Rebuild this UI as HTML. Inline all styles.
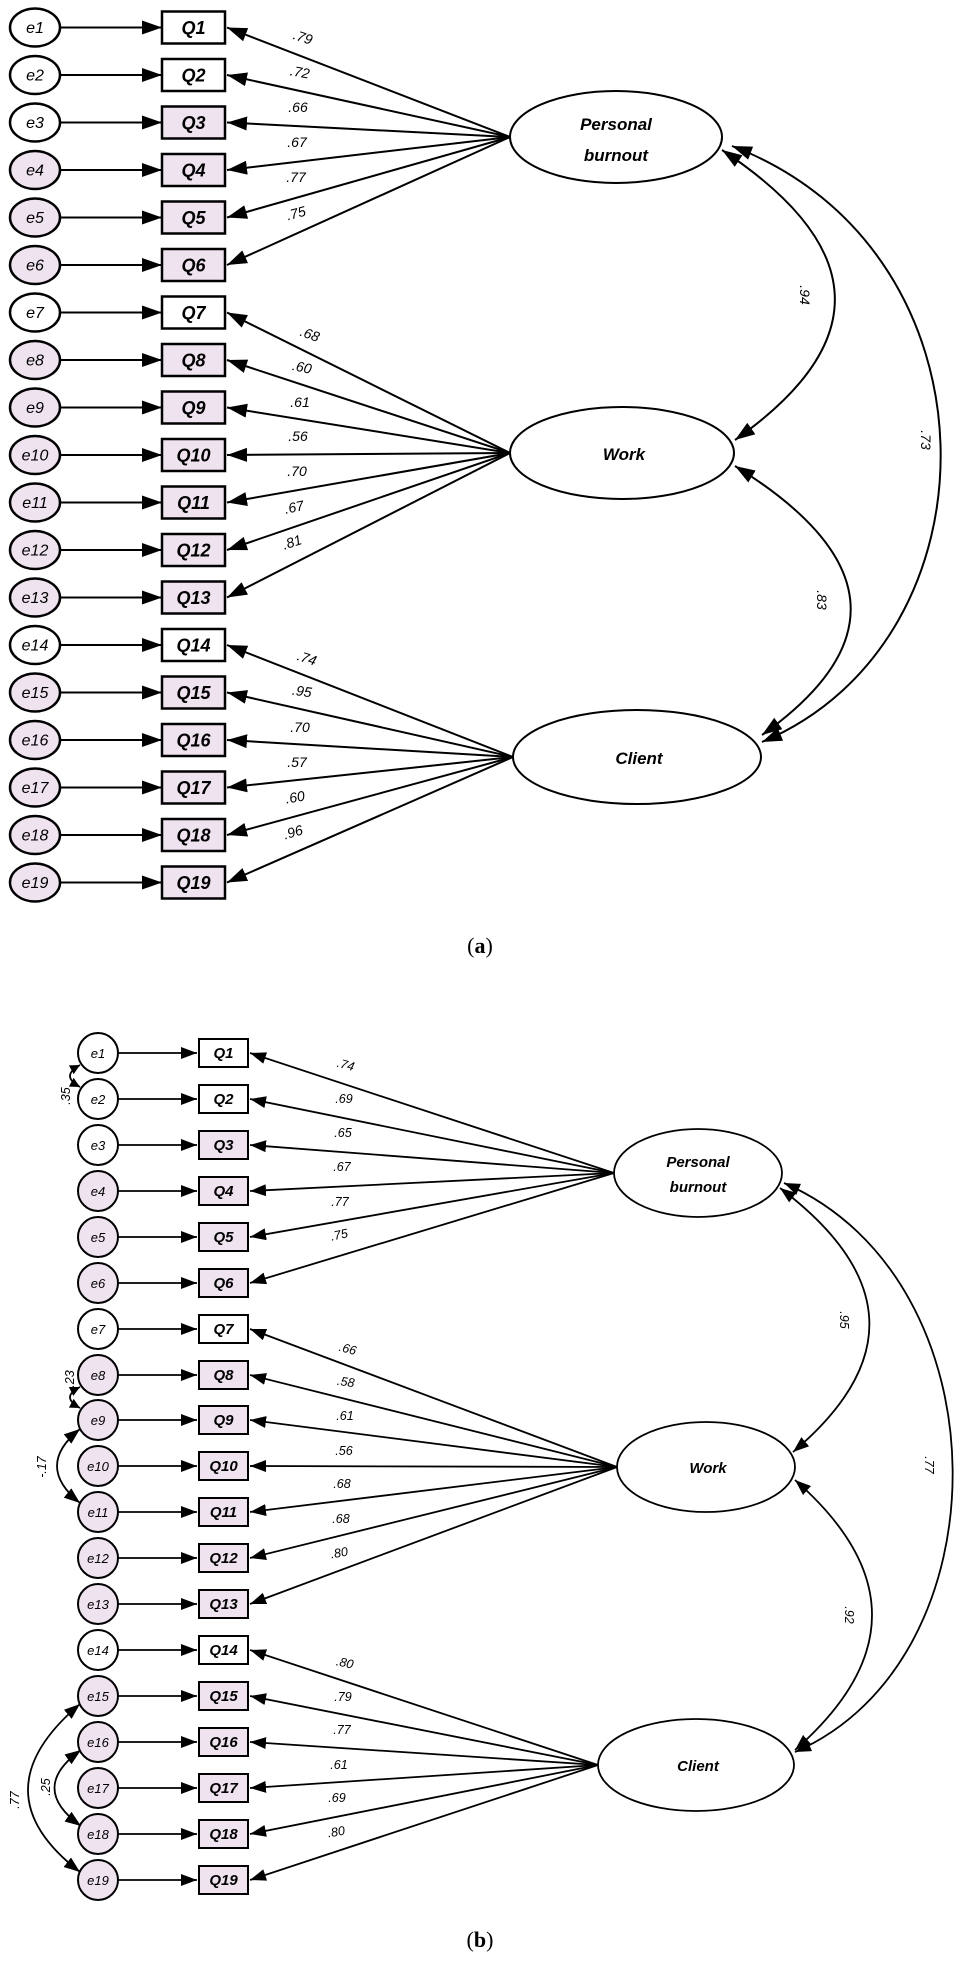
<!DOCTYPE html>
<html><head><meta charset="utf-8"><style>
html,body{margin:0;padding:0;background:#fff}
svg{display:block}
text{font-family:"Liberation Sans",sans-serif;font-style:italic}
.e{font-size:16px;text-anchor:middle}
.q{font-size:18px;font-weight:bold;text-anchor:middle}
.e2{font-size:13px;text-anchor:middle}
.q2{font-size:15px;font-weight:bold;text-anchor:middle}
.l{font-size:14px;text-anchor:middle}
.l2{font-size:12.5px;text-anchor:middle}
.f{font-size:17px;font-weight:bold;text-anchor:middle}
.f2{font-size:15px;font-weight:bold;text-anchor:middle}
.cap{font-family:"Liberation Serif",serif;font-style:normal;font-size:22px;text-anchor:middle}
</style></head><body>
<svg width="955" height="1963" viewBox="0 0 955 1963" xmlns="http://www.w3.org/2000/svg">
<defs>
<marker id="a" markerUnits="userSpaceOnUse" markerWidth="22" markerHeight="14" refX="20" refY="7" orient="auto-start-reverse"><path d="M0,0 L20,7 L0,14 Z" fill="#000"/></marker>
<marker id="b" markerUnits="userSpaceOnUse" markerWidth="18" markerHeight="12" refX="16" refY="6" orient="auto-start-reverse"><path d="M0,0 L16,6 L0,12 Z" fill="#000"/></marker>
<marker id="s" markerUnits="userSpaceOnUse" markerWidth="12" markerHeight="10" refX="10" refY="5" orient="auto-start-reverse"><path d="M0,0 L10,5 L0,10 Z" fill="#000"/></marker>
</defs>

<!-- PANEL A -->
<g stroke="#000" stroke-width="2" fill="none" marker-end="url(#a)">
<line x1="60" y1="27.5" x2="162" y2="27.5"/><line x1="60" y1="75" x2="162" y2="75"/><line x1="60" y1="122.5" x2="162" y2="122.5"/><line x1="60" y1="170" x2="162" y2="170"/><line x1="60" y1="217.5" x2="162" y2="217.5"/><line x1="60" y1="265" x2="162" y2="265"/><line x1="60" y1="312.5" x2="162" y2="312.5"/><line x1="60" y1="360" x2="162" y2="360"/><line x1="60" y1="407.5" x2="162" y2="407.5"/><line x1="60" y1="455" x2="162" y2="455"/><line x1="60" y1="502.5" x2="162" y2="502.5"/><line x1="60" y1="550" x2="162" y2="550"/><line x1="60" y1="597.5" x2="162" y2="597.5"/><line x1="60" y1="645" x2="162" y2="645"/><line x1="60" y1="692.5" x2="162" y2="692.5"/><line x1="60" y1="740" x2="162" y2="740"/><line x1="60" y1="787.5" x2="162" y2="787.5"/><line x1="60" y1="835" x2="162" y2="835"/><line x1="60" y1="882.5" x2="162" y2="882.5"/>
<line x1="510" y1="137" x2="227" y2="27.5"/><line x1="510" y1="137" x2="227" y2="75"/><line x1="510" y1="137" x2="227" y2="122.5"/><line x1="510" y1="137" x2="227" y2="170"/><line x1="510" y1="137" x2="227" y2="217.5"/><line x1="510" y1="137" x2="227" y2="265"/>
<line x1="510" y1="453" x2="227" y2="312.5"/><line x1="510" y1="453" x2="227" y2="360"/><line x1="510" y1="453" x2="227" y2="407.5"/><line x1="510" y1="453" x2="227" y2="455"/><line x1="510" y1="453" x2="227" y2="502.5"/><line x1="510" y1="453" x2="227" y2="550"/><line x1="510" y1="453" x2="227" y2="597.5"/>
<line x1="513" y1="757" x2="227" y2="645"/><line x1="513" y1="757" x2="227" y2="692.5"/><line x1="513" y1="757" x2="227" y2="740"/><line x1="513" y1="757" x2="227" y2="787.5"/><line x1="513" y1="757" x2="227" y2="835"/><line x1="513" y1="757" x2="227" y2="882.5"/>
<path d="M722,150 Q941,295 735,440" marker-start="url(#a)"/>
<path d="M732,146 C1005,250 1005,640 762,742" marker-start="url(#a)"/>
<path d="M735,466 Q952,600 762,735" marker-start="url(#a)"/>
</g>
<g stroke="#000" stroke-width="2.5">
<ellipse cx="35" cy="27.5" rx="25" ry="19" fill="#fff"/><ellipse cx="35" cy="75" rx="25" ry="19" fill="#fff"/><ellipse cx="35" cy="122.5" rx="25" ry="19" fill="#fff"/><ellipse cx="35" cy="170" rx="25" ry="19" fill="#efe3ef"/><ellipse cx="35" cy="217.5" rx="25" ry="19" fill="#efe3ef"/><ellipse cx="35" cy="265" rx="25" ry="19" fill="#efe3ef"/><ellipse cx="35" cy="312.5" rx="25" ry="19" fill="#fff"/><ellipse cx="35" cy="360" rx="25" ry="19" fill="#efe3ef"/><ellipse cx="35" cy="407.5" rx="25" ry="19" fill="#efe3ef"/><ellipse cx="35" cy="455" rx="25" ry="19" fill="#efe3ef"/><ellipse cx="35" cy="502.5" rx="25" ry="19" fill="#efe3ef"/><ellipse cx="35" cy="550" rx="25" ry="19" fill="#efe3ef"/><ellipse cx="35" cy="597.5" rx="25" ry="19" fill="#efe3ef"/><ellipse cx="35" cy="645" rx="25" ry="19" fill="#fff"/><ellipse cx="35" cy="692.5" rx="25" ry="19" fill="#efe3ef"/><ellipse cx="35" cy="740" rx="25" ry="19" fill="#efe3ef"/><ellipse cx="35" cy="787.5" rx="25" ry="19" fill="#efe3ef"/><ellipse cx="35" cy="835" rx="25" ry="19" fill="#efe3ef"/><ellipse cx="35" cy="882.5" rx="25" ry="19" fill="#efe3ef"/>
<rect x="162" y="11.5" width="63" height="32" fill="#fff"/><rect x="162" y="59" width="63" height="32" fill="#fff"/><rect x="162" y="106.5" width="63" height="32" fill="#efe3ef"/><rect x="162" y="154" width="63" height="32" fill="#efe3ef"/><rect x="162" y="201.5" width="63" height="32" fill="#efe3ef"/><rect x="162" y="249" width="63" height="32" fill="#efe3ef"/><rect x="162" y="296.5" width="63" height="32" fill="#fff"/><rect x="162" y="344" width="63" height="32" fill="#efe3ef"/><rect x="162" y="391.5" width="63" height="32" fill="#efe3ef"/><rect x="162" y="439" width="63" height="32" fill="#efe3ef"/><rect x="162" y="486.5" width="63" height="32" fill="#efe3ef"/><rect x="162" y="534" width="63" height="32" fill="#efe3ef"/><rect x="162" y="581.5" width="63" height="32" fill="#efe3ef"/><rect x="162" y="629" width="63" height="32" fill="#fff"/><rect x="162" y="676.5" width="63" height="32" fill="#efe3ef"/><rect x="162" y="724" width="63" height="32" fill="#efe3ef"/><rect x="162" y="771.5" width="63" height="32" fill="#efe3ef"/><rect x="162" y="819" width="63" height="32" fill="#efe3ef"/><rect x="162" y="866.5" width="63" height="32" fill="#efe3ef"/>
</g>
<g stroke="#000" stroke-width="2" fill="#fff">
<ellipse cx="616" cy="137" rx="106" ry="46"/><ellipse cx="622" cy="453" rx="112" ry="46"/><ellipse cx="637" cy="757" rx="124" ry="47"/>
</g>
<text class="e" x="35" y="33">e1</text><text class="e" x="35" y="80.5">e2</text><text class="e" x="35" y="128">e3</text><text class="e" x="35" y="175.5">e4</text><text class="e" x="35" y="223">e5</text><text class="e" x="35" y="270.5">e6</text><text class="e" x="35" y="318">e7</text><text class="e" x="35" y="365.5">e8</text><text class="e" x="35" y="413">e9</text><text class="e" x="35" y="460.5">e10</text><text class="e" x="35" y="508">e11</text><text class="e" x="35" y="555.5">e12</text><text class="e" x="35" y="603">e13</text><text class="e" x="35" y="650.5">e14</text><text class="e" x="35" y="698">e15</text><text class="e" x="35" y="745.5">e16</text><text class="e" x="35" y="793">e17</text><text class="e" x="35" y="840.5">e18</text><text class="e" x="35" y="888">e19</text>
<text class="q" x="193.5" y="34">Q1</text><text class="q" x="193.5" y="81.5">Q2</text><text class="q" x="193.5" y="129">Q3</text><text class="q" x="193.5" y="176.5">Q4</text><text class="q" x="193.5" y="224">Q5</text><text class="q" x="193.5" y="271.5">Q6</text><text class="q" x="193.5" y="319">Q7</text><text class="q" x="193.5" y="366.5">Q8</text><text class="q" x="193.5" y="414">Q9</text><text class="q" x="193.5" y="461.5">Q10</text><text class="q" x="193.5" y="509">Q11</text><text class="q" x="193.5" y="556.5">Q12</text><text class="q" x="193.5" y="604">Q13</text><text class="q" x="193.5" y="651.5">Q14</text><text class="q" x="193.5" y="699">Q15</text><text class="q" x="193.5" y="746.5">Q16</text><text class="q" x="193.5" y="794">Q17</text><text class="q" x="193.5" y="841.5">Q18</text><text class="q" x="193.5" y="889">Q19</text>
<text class="l" x="303" y="42" transform="rotate(18 303 37)">.79</text><text class="l" x="300" y="77" transform="rotate(10 300 72)">.72</text><text class="l" x="298" y="112">.66</text><text class="l" x="297" y="147">.67</text><text class="l" x="296" y="182">.77</text><text class="l" x="296" y="218" transform="rotate(-15 296 213)">.75</text>
<text class="l" x="310" y="339" transform="rotate(20 310 334)">.68</text><text class="l" x="302" y="372" transform="rotate(12 302 367)">.60</text><text class="l" x="300" y="407">.61</text><text class="l" x="298" y="441">.56</text><text class="l" x="297" y="476">.70</text><text class="l" x="294" y="512" transform="rotate(-12 294 507)">.67</text><text class="l" x="292" y="547" transform="rotate(-18 292 542)">.81</text>
<text class="l" x="307" y="663" transform="rotate(18 307 658)">.74</text><text class="l" x="302" y="696" transform="rotate(8 302 691)">.95</text><text class="l" x="300" y="732">.70</text><text class="l" x="297" y="767">.57</text><text class="l" x="295" y="802" transform="rotate(-10 295 797)">.60</text><text class="l" x="293" y="837" transform="rotate(-16 293 832)">.96</text>
<text class="f" x="616" y="130">Personal</text><text class="f" x="616" y="161">burnout</text>
<text class="f" x="624" y="460">Work</text>
<text class="f" x="639" y="764">Client</text>
<text class="l" x="805" y="300" transform="rotate(90 805 295)">.94</text>
<text class="l" x="926" y="445" transform="rotate(90 926 440)">.73</text>
<text class="l" x="822" y="605" transform="rotate(90 822 600)">.83</text>
<text class="cap" x="480" y="953">(<tspan font-weight="bold">a</tspan>)</text>

<!-- PANEL B -->
<g stroke="#000" stroke-width="1.8" fill="none" marker-end="url(#b)">
<line x1="118" y1="1053" x2="197" y2="1053"/><line x1="118" y1="1099" x2="197" y2="1099"/><line x1="118" y1="1145" x2="197" y2="1145"/><line x1="118" y1="1191" x2="197" y2="1191"/><line x1="118" y1="1237" x2="197" y2="1237"/><line x1="118" y1="1283" x2="197" y2="1283"/><line x1="118" y1="1329" x2="197" y2="1329"/><line x1="118" y1="1375" x2="197" y2="1375"/><line x1="118" y1="1420" x2="197" y2="1420"/><line x1="118" y1="1466" x2="197" y2="1466"/><line x1="118" y1="1512" x2="197" y2="1512"/><line x1="118" y1="1558" x2="197" y2="1558"/><line x1="118" y1="1604" x2="197" y2="1604"/><line x1="118" y1="1650" x2="197" y2="1650"/><line x1="118" y1="1696" x2="197" y2="1696"/><line x1="118" y1="1742" x2="197" y2="1742"/><line x1="118" y1="1788" x2="197" y2="1788"/><line x1="118" y1="1834" x2="197" y2="1834"/><line x1="118" y1="1880" x2="197" y2="1880"/>
<line x1="614" y1="1173" x2="250" y2="1053"/><line x1="614" y1="1173" x2="250" y2="1099"/><line x1="614" y1="1173" x2="250" y2="1145"/><line x1="614" y1="1173" x2="250" y2="1191"/><line x1="614" y1="1173" x2="250" y2="1237"/><line x1="614" y1="1173" x2="250" y2="1283"/>
<line x1="617" y1="1467" x2="250" y2="1329"/><line x1="617" y1="1467" x2="250" y2="1375"/><line x1="617" y1="1467" x2="250" y2="1420"/><line x1="617" y1="1467" x2="250" y2="1466"/><line x1="617" y1="1467" x2="250" y2="1512"/><line x1="617" y1="1467" x2="250" y2="1558"/><line x1="617" y1="1467" x2="250" y2="1604"/>
<line x1="598" y1="1765" x2="250" y2="1650"/><line x1="598" y1="1765" x2="250" y2="1696"/><line x1="598" y1="1765" x2="250" y2="1742"/><line x1="598" y1="1765" x2="250" y2="1788"/><line x1="598" y1="1765" x2="250" y2="1834"/><line x1="598" y1="1765" x2="250" y2="1880"/>
<path d="M780,1188 Q952,1318 793,1452" marker-start="url(#b)"/>
<path d="M784,1183 C1007,1280 1007,1660 795,1752" marker-start="url(#b)"/>
<path d="M795,1480 Q949,1615 795,1750" marker-start="url(#b)"/>
<path d="M80,1429 Q34,1466 80,1503" marker-start="url(#b)"/>
<path d="M80,1704 Q-24,1792 80,1872" marker-start="url(#b)"/>
<path d="M81,1750 Q28,1788 81,1826" marker-start="url(#b)"/>
<path d="M80,1065 Q60,1076 80,1087" marker-start="url(#s)" marker-end="url(#s)"/>
<path d="M80,1387 Q60,1397 80,1408" marker-start="url(#s)" marker-end="url(#s)"/>
</g>
<g stroke="#000" stroke-width="2">
<circle cx="98" cy="1053" r="20" fill="#fff"/><circle cx="98" cy="1099" r="20" fill="#fff"/><circle cx="98" cy="1145" r="20" fill="#fff"/><circle cx="98" cy="1191" r="20" fill="#efe3ef"/><circle cx="98" cy="1237" r="20" fill="#efe3ef"/><circle cx="98" cy="1283" r="20" fill="#efe3ef"/><circle cx="98" cy="1329" r="20" fill="#fff"/><circle cx="98" cy="1375" r="20" fill="#efe3ef"/><circle cx="98" cy="1420" r="20" fill="#efe3ef"/><circle cx="98" cy="1466" r="20" fill="#efe3ef"/><circle cx="98" cy="1512" r="20" fill="#efe3ef"/><circle cx="98" cy="1558" r="20" fill="#efe3ef"/><circle cx="98" cy="1604" r="20" fill="#efe3ef"/><circle cx="98" cy="1650" r="20" fill="#fff"/><circle cx="98" cy="1696" r="20" fill="#efe3ef"/><circle cx="98" cy="1742" r="20" fill="#efe3ef"/><circle cx="98" cy="1788" r="20" fill="#efe3ef"/><circle cx="98" cy="1834" r="20" fill="#efe3ef"/><circle cx="98" cy="1880" r="20" fill="#efe3ef"/>
<rect x="199" y="1039" width="49" height="28" fill="#fff"/><rect x="199" y="1085" width="49" height="28" fill="#fff"/><rect x="199" y="1131" width="49" height="28" fill="#efe3ef"/><rect x="199" y="1177" width="49" height="28" fill="#efe3ef"/><rect x="199" y="1223" width="49" height="28" fill="#efe3ef"/><rect x="199" y="1269" width="49" height="28" fill="#efe3ef"/><rect x="199" y="1315" width="49" height="28" fill="#fff"/><rect x="199" y="1361" width="49" height="28" fill="#efe3ef"/><rect x="199" y="1406" width="49" height="28" fill="#efe3ef"/><rect x="199" y="1452" width="49" height="28" fill="#efe3ef"/><rect x="199" y="1498" width="49" height="28" fill="#efe3ef"/><rect x="199" y="1544" width="49" height="28" fill="#efe3ef"/><rect x="199" y="1590" width="49" height="28" fill="#efe3ef"/><rect x="199" y="1636" width="49" height="28" fill="#fff"/><rect x="199" y="1682" width="49" height="28" fill="#efe3ef"/><rect x="199" y="1728" width="49" height="28" fill="#efe3ef"/><rect x="199" y="1774" width="49" height="28" fill="#efe3ef"/><rect x="199" y="1820" width="49" height="28" fill="#efe3ef"/><rect x="199" y="1866" width="49" height="28" fill="#efe3ef"/>
</g>
<g stroke="#000" stroke-width="1.8" fill="#fff">
<ellipse cx="698" cy="1173" rx="84" ry="44"/><ellipse cx="706" cy="1467" rx="89" ry="45"/><ellipse cx="696" cy="1765" rx="98" ry="46"/>
</g>
<text class="e2" x="98" y="1058">e1</text><text class="e2" x="98" y="1104">e2</text><text class="e2" x="98" y="1150">e3</text><text class="e2" x="98" y="1196">e4</text><text class="e2" x="98" y="1242">e5</text><text class="e2" x="98" y="1288">e6</text><text class="e2" x="98" y="1334">e7</text><text class="e2" x="98" y="1380">e8</text><text class="e2" x="98" y="1425">e9</text><text class="e2" x="98" y="1471">e10</text><text class="e2" x="98" y="1517">e11</text><text class="e2" x="98" y="1563">e12</text><text class="e2" x="98" y="1609">e13</text><text class="e2" x="98" y="1655">e14</text><text class="e2" x="98" y="1701">e15</text><text class="e2" x="98" y="1747">e16</text><text class="e2" x="98" y="1793">e17</text><text class="e2" x="98" y="1839">e18</text><text class="e2" x="98" y="1885">e19</text>
<text class="q2" x="223.5" y="1058">Q1</text><text class="q2" x="223.5" y="1104">Q2</text><text class="q2" x="223.5" y="1150">Q3</text><text class="q2" x="223.5" y="1196">Q4</text><text class="q2" x="223.5" y="1242">Q5</text><text class="q2" x="223.5" y="1288">Q6</text><text class="q2" x="223.5" y="1334">Q7</text><text class="q2" x="223.5" y="1380">Q8</text><text class="q2" x="223.5" y="1425">Q9</text><text class="q2" x="223.5" y="1471">Q10</text><text class="q2" x="223.5" y="1517">Q11</text><text class="q2" x="223.5" y="1563">Q12</text><text class="q2" x="223.5" y="1609">Q13</text><text class="q2" x="223.5" y="1655">Q14</text><text class="q2" x="223.5" y="1701">Q15</text><text class="q2" x="223.5" y="1747">Q16</text><text class="q2" x="223.5" y="1793">Q17</text><text class="q2" x="223.5" y="1839">Q18</text><text class="q2" x="223.5" y="1885">Q19</text>
<text class="l2" x="346" y="1069" transform="rotate(15 346 1064)">.74</text><text class="l2" x="344" y="1103">.69</text><text class="l2" x="343" y="1137">.65</text><text class="l2" x="342" y="1171">.67</text><text class="l2" x="340" y="1206">.77</text><text class="l2" x="339" y="1239" transform="rotate(-12 339 1234)">.75</text>
<text class="l2" x="348" y="1353" transform="rotate(15 348 1348)">.66</text><text class="l2" x="346" y="1386" transform="rotate(8 346 1381)">.58</text><text class="l2" x="345" y="1420">.61</text><text class="l2" x="344" y="1455">.56</text><text class="l2" x="342" y="1488">.68</text><text class="l2" x="341" y="1523">.68</text><text class="l2" x="339" y="1557" transform="rotate(-10 339 1552)">.80</text>
<text class="l2" x="345" y="1667" transform="rotate(12 345 1662)">.80</text><text class="l2" x="343" y="1701">.79</text><text class="l2" x="342" y="1734">.77</text><text class="l2" x="339" y="1769">.61</text><text class="l2" x="337" y="1802">.69</text><text class="l2" x="336" y="1836" transform="rotate(-10 336 1831)">.80</text>
<text class="f2" x="698" y="1167">Personal</text><text class="f2" x="698" y="1192">burnout</text>
<text class="f2" x="708" y="1473">Work</text>
<text class="f2" x="698" y="1771">Client</text>
<text class="l2" x="845" y="1325" transform="rotate(90 845 1320)">.95</text>
<text class="l2" x="930" y="1470" transform="rotate(90 930 1465)">.77</text>
<text class="l2" x="850" y="1620" transform="rotate(90 850 1615)">.92</text>
<text class="l2" x="42" y="1471" transform="rotate(-90 42 1467)">-.17</text>
<text class="l2" x="15" y="1804" transform="rotate(-90 15 1800)">.77</text>
<text class="l2" x="46" y="1791" transform="rotate(-90 46 1787)">.25</text>
<text class="l2" x="66" y="1100" transform="rotate(-90 66 1096)">.35</text>
<text class="l2" x="70" y="1383" transform="rotate(-90 70 1379)">.23</text>
<text class="cap" x="480" y="1947">(<tspan font-weight="bold">b</tspan>)</text>
</svg>
</body></html>
